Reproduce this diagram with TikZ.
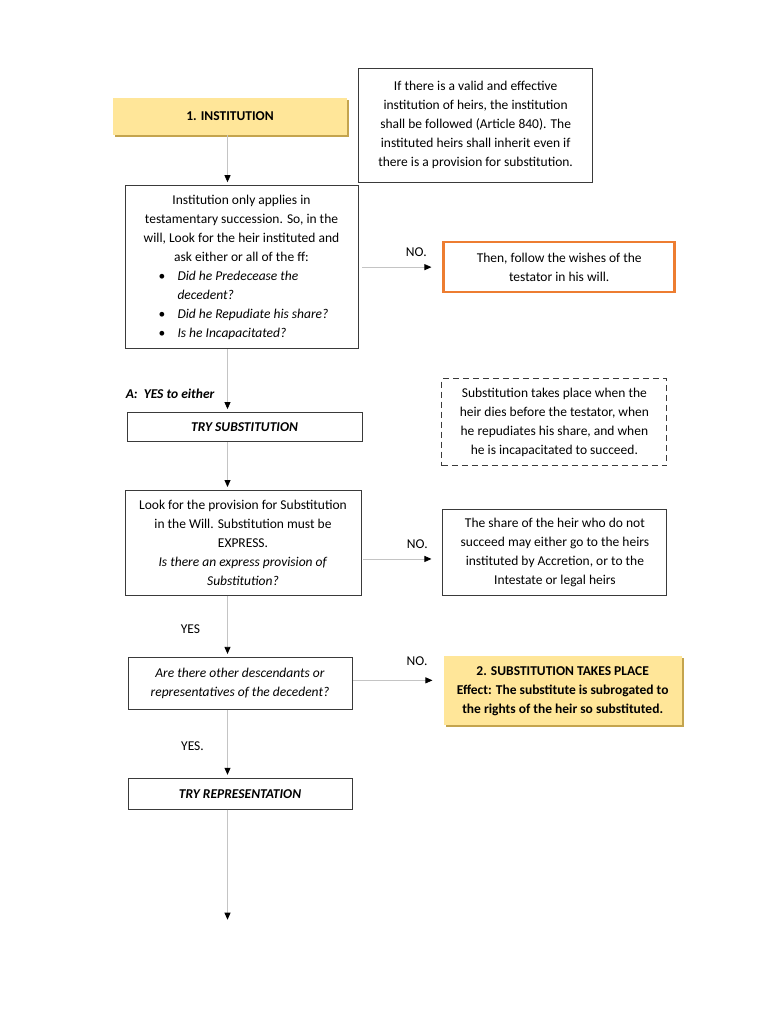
\documentclass[tikz,border=0pt]{standalone}
\usepackage{fontspec}
\setmainfont{Carlito}
\usetikzlibrary{positioning,arrows.meta,shadows}
\definecolor{goldfill}{HTML}{FFE699}
\definecolor{goldedge}{HTML}{C4A44E}
\definecolor{orangeline}{HTML}{ED7D31}
\definecolor{boxline}{HTML}{3A3A3A}
\definecolor{arrowline}{HTML}{C4C4C4}

\begin{document}
\begin{tikzpicture}[x=1pt,y=1pt,
    >={Triangle[width=6pt,length=7pt,color=black]},
    every node/.style={font=\fontsize{13.5}{19}\selectfont},
    flowbox/.style={draw=boxline, line width=0.9pt, align=center, inner sep=2pt},
    goldbox/.style={fill=goldfill, align=center, inner sep=2pt,
      drop shadow={shadow xshift=2pt, shadow yshift=-2pt, fill=goldedge, opacity=1}},
    hintbox/.style={flowbox, draw=orangeline, line width=2.6pt},
    dashbox/.style={flowbox, dash pattern=on 6pt off 4pt},
    lbl/.style={inner sep=1pt},
    flow/.style={->, draw=arrowline, line width=0.8pt, shorten >=3pt}]
  \useasboundingbox (0,0) rectangle (768,-1024);

  \node[goldbox, minimum width=234pt, minimum height=37pt] (inst) at (230,-116.5) {\textbf{1. INSTITUTION}};
  \node[flowbox, minimum width=234pt, minimum height=114pt, right=11pt of inst, yshift=-8.5pt] (valid)
    {If there is a valid and effective\\institution of heirs, the institution\\shall be followed (Article 840). The\\instituted heirs shall inherit even if\\there is a provision for substitution.};

  \node[flowbox, minimum width=233pt, minimum height=163pt, below=50pt of inst, xshift=11.5pt] (ask)
    {Institution only applies in\\testamentary succession. So, in the\\will, Look for the heir instituted and\\ask either or all of the ff:\\
     \makebox[166pt][l]{\makebox[19pt][l]{\textbullet}\textit{Did he Predecease the}}\\
     \makebox[166pt][l]{\hspace*{19pt}\textit{decedent?}}\\
     \makebox[166pt][l]{\makebox[19pt][l]{\textbullet}\textit{Did he Repudiate his share?}}\\
     \makebox[166pt][l]{\makebox[19pt][l]{\textbullet}\textit{Is he Incapacitated?}}};
  \node[hintbox, minimum width=231pt, minimum height=50pt, right=84pt of ask] (wish)
    {Then, follow the wishes of the\\testator in his will.};

  \node[flowbox, minimum width=235pt, minimum height=29pt, below=63pt of ask, xshift=3pt] (trysub)
    {\textbf{\textit{TRY SUBSTITUTION}}};
  \node[dashbox, minimum width=225pt, minimum height=87pt, right=79pt of trysub, yshift=5pt] (when)
    {Substitution takes place when the\\heir dies before the testator, when\\he repudiates his share, and when\\he is incapacitated to succeed.};
  \node[lbl, anchor=base west] (either) at ([shift={(-2pt,14pt)}]trysub.north west)
    {\textbf{\textit{A:\ \ YES to either}}};

  \node[flowbox, minimum width=236pt, minimum height=105pt, below=48pt of trysub, xshift=-1.5pt] (look)
    {Look for the provision for Substitution\\in the Will. Substitution must be\\EXPRESS.\\\textit{Is there an express provision of}\\\textit{Substitution?}};
  \node[flowbox, minimum width=224pt, minimum height=86pt, right=81pt of look, yshift=-9.5pt] (share)
    {The share of the heir who do not\\succeed may either go to the heirs\\instituted by Accretion, or to the\\Intestate or legal heirs};

  \node[flowbox, minimum width=224pt, minimum height=52pt, below=61pt of look, xshift=-3pt] (desc)
    {\textit{Are there other descendants or}\\\textit{representatives of the decedent?}};
  \node[goldbox, minimum width=238pt, minimum height=69pt, right=91pt of desc, yshift=-7.5pt] (subst)
    {\textbf{2. SUBSTITUTION TAKES PLACE}\\\textbf{Effect: The substitute is subrogated to}\\\textbf{the rights of the heir so substituted.}};

  \node[flowbox, minimum width=224pt, minimum height=31pt, below=68pt of desc] (tryrep)
    {\textbf{\textit{TRY REPRESENTATION}}};

  \coordinate (axis) at (227.5,0);
  \coordinate (lookout) at ([yshift=-16pt]look.east);
  \coordinate (descout) at ([yshift=3pt]desc.east);
  \path (tryrep.south -| axis) ++(0,-113) coordinate (end);

  \draw[flow] (inst.south -| axis) -- (ask.north -| axis);
  \draw[flow] (ask.south -| axis) -- (trysub.north -| axis);
  \draw[flow] (trysub.south -| axis) -- (look.north -| axis);
  \draw[flow] (look.south -| axis) -- node[lbl, pos=0.54, xshift=-37pt] (yes1) {YES} (desc.north -| axis);
  \draw[flow] (desc.south -| axis) -- node[lbl, pos=0.54, xshift=-35pt] (yes2) {YES.} (tryrep.north -| axis);
  \draw[flow] (tryrep.south -| axis) -- (end);

  \draw[flow, shorten <=4pt, shorten >=11pt] (ask.east) -- node[lbl, pos=0.69, above=9pt] (no1) {NO.} (ask.east -| wish.west);
  \draw[flow, shorten <=2pt, shorten >=11pt] (lookout) -- node[lbl, pos=0.69, above=9pt] (no2) {NO.} (lookout -| share.west);
  \draw[flow, shorten <=1pt, shorten >=11pt] (descout) -- node[lbl, pos=0.71, above=13pt] (no3) {NO.} (descout -| subst.west);
\end{tikzpicture}
\end{document}
